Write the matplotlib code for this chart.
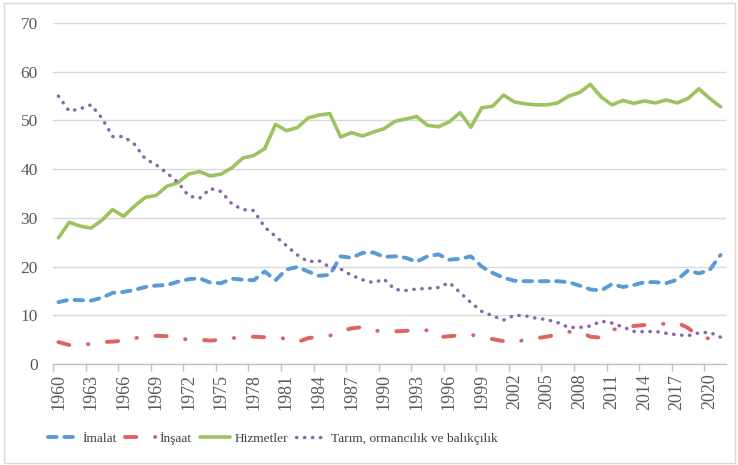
import matplotlib.pyplot as plt
from matplotlib.patches import Rectangle
import numpy as np

# data (percent share of employment by sector)
years = list(range(1960, 2022))

imalat = [12.7, 13.2, 13.1, 13.0, 13.6, 14.6, 14.8, 15.2, 15.8, 16.1, 16.2, 16.9, 17.4, 17.6, 16.7, 16.6,
          17.5, 17.3, 17.2, 19.0, 17.2, 19.4, 19.9, 19.0, 18.1, 18.3, 22.1, 21.8, 22.8, 22.9, 22.0, 22.1,
          21.8, 21.0, 22.1, 22.5, 21.4, 21.6, 22.1, 20.0, 18.7, 17.7, 17.1, 17.0, 17.0, 17.0, 17.0, 16.8,
          16.1, 15.3, 15.1, 16.4, 15.8, 16.2, 16.8, 16.8, 16.6, 17.3, 19.2, 18.6, 19.3, 22.4]

insaat = [4.5, 3.9, 4.0, 4.1, 4.5, 4.6, 4.8, 5.3, 5.6, 5.8, 5.7, 5.3, 5.0, 5.0, 4.8, 5.0,
          5.3, 5.5, 5.6, 5.5, 5.4, 5.2, 4.5, 5.3, 5.6, 5.8, 6.8, 7.3, 7.6, 6.8, 6.8, 6.7,
          6.8, 7.0, 6.9, 5.5, 5.7, 5.9, 6.0, 5.6, 5.1, 4.7, 4.4, 5.0, 5.3, 5.6, 6.1, 6.6,
          6.7, 5.6, 5.4, 7.0, 7.5, 7.8, 8.0, 8.1, 8.3, 8.5, 7.4, 5.6, 5.2, 4.9]

hizmetler = [25.9, 29.1, 28.3, 27.9, 29.5, 31.7, 30.3, 32.4, 34.2, 34.6, 36.5, 37.2, 39.0, 39.5, 38.6, 39.0,
             40.3, 42.3, 42.8, 44.2, 49.2, 47.9, 48.5, 50.5, 51.1, 51.4, 46.6, 47.5, 46.8, 47.6, 48.3, 49.8,
             50.3, 50.8, 49.0, 48.7, 49.7, 51.6, 48.6, 52.6, 52.9, 55.2, 53.8, 53.4, 53.2, 53.2, 53.6, 55.0,
             55.7, 57.4, 54.8, 53.2, 54.1, 53.5, 54.0, 53.6, 54.2, 53.6, 54.5, 56.5, 54.5, 52.8]

tarim = [55.0, 51.9, 52.4, 53.2, 50.5, 46.7, 46.7, 45.1, 42.1, 40.9, 39.2, 37.3, 34.5, 34.0, 36.0, 35.4,
         32.8, 31.7, 31.5, 28.1, 26.2, 24.3, 22.4, 21.0, 21.2, 19.9, 19.5, 18.2, 17.3, 16.7, 17.4, 15.3,
         15.1, 15.4, 15.5, 15.7, 16.7, 14.7, 12.6, 10.8, 9.9, 9.0, 10.0, 9.9, 9.4, 9.1, 8.5, 7.5,
         7.5, 7.8, 8.8, 8.4, 7.6, 6.7, 6.6, 6.7, 6.3, 6.0, 5.8, 6.4, 6.5, 5.5]

labels = ['İmalat', 'İnşaat', 'Hizmetler', 'Tarım, ormancılık ve balıkçılık']
colors = ['#5B9BD5', '#DD6460', '#9BC35F', '#8867AE']

plt.rcParams['font.family'] = ['Liberation Serif', 'DejaVu Serif']

fig = plt.figure(figsize=(7.38, 4.65), dpi=100)
ax = fig.add_axes([53/738, 1 - 364/465, (726 - 53)/738, (364 - 23)/465])

x = np.arange(len(years))

ax.plot(x, imalat, color=colors[0], lw=2.8, dashes=(2.2, 2.0), dash_capstyle='round', label=labels[0])
ax.plot(x, insaat, color=colors[1], lw=2.8, dashes=(2.9, 4.8, 0.1, 4.8), dash_capstyle='round', label=labels[1])
ax.plot(x, hizmetler, color=colors[2], lw=2.6, solid_capstyle='round', solid_joinstyle='round', label=labels[2])
ax.plot(x, tarim, color=colors[3], lw=2.5, dashes=(0.1, 2.2), dash_capstyle='round', label=labels[3])

ax.set_xlim(-0.5, len(years) - 0.5)
ax.set_ylim(0, 70)
ax.set_yticks(range(0, 71, 10))
ax.grid(axis='y', color='#D9D9D9', lw=1)
ax.set_axisbelow(True)

ax.set_xticks(x[::3])
ax.set_xticklabels([str(y) for y in years[::3]], rotation=90)
ax.set_xticks(x[::3] - 0.5, minor=True)
ax.tick_params(axis='x', which='major', length=0, pad=7, labelsize=13, labelcolor='#595959')
ax.tick_params(axis='x', which='minor', length=5, width=1, color='#BFBFBF')
ax.tick_params(axis='y', length=0, pad=11, labelsize=12.5, labelcolor='#595959')

for s in ['top', 'right', 'left']:
    ax.spines[s].set_visible(False)
ax.spines['bottom'].set_color('#BFBFBF')
ax.spines['bottom'].set_linewidth(1)

fig.legend(loc='center left', bbox_to_anchor=(36/738, 1 - 438/465), ncol=4, frameon=False,
           fontsize=9.6, handlelength=2.3, handletextpad=0.3, columnspacing=0.6, labelcolor='#404040')

fig.patches.append(Rectangle((4/738, 2/465), 731/738, 460/465, transform=fig.transFigure,
                             fill=False, edgecolor='#D9D9D9', lw=1))

fig.savefig('out.png', dpi=100)
